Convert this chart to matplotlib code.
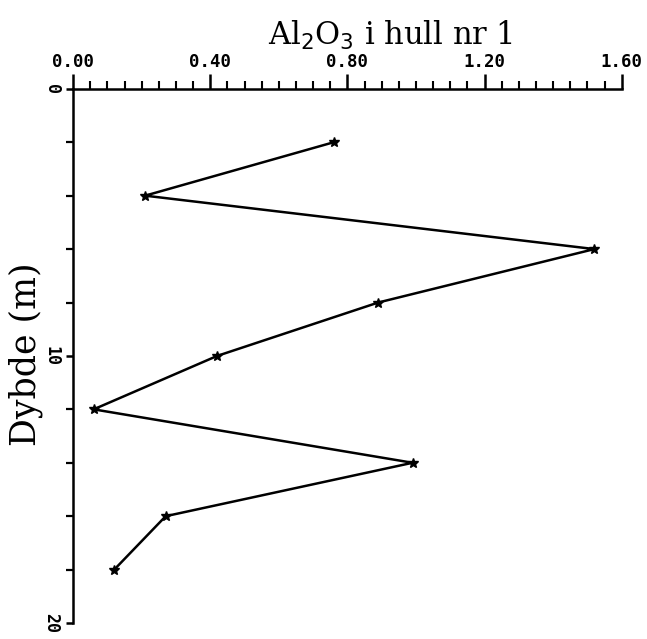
import matplotlib
matplotlib.use("Agg")
import matplotlib.pyplot as plt
from matplotlib.ticker import MultipleLocator, FixedLocator

# Al2O3 content down the borehole
depth = [2, 4, 6, 8, 10, 12, 14, 16, 18]
al2o3 = [0.76, 0.21, 1.52, 0.89, 0.42, 0.06, 0.99, 0.27, 0.12]

x_ticks = [0.0, 0.4, 0.8, 1.2, 1.6]
y_ticks = [0, 10, 20]

fig = plt.figure(figsize=(6.47, 6.39), dpi=100)
ax = fig.add_axes([0.113, 0.025, 0.848, 0.836])

ax.plot(al2o3, depth, color="black", lw=1.8, marker="*", ms=7,
        mfc="black", mec="black")

ax.set_xlim(0, 1.6)
ax.set_ylim(20, 0)

ax.spines["right"].set_visible(False)
ax.spines["bottom"].set_visible(False)
ax.spines["top"].set_linewidth(1.8)
ax.spines["left"].set_linewidth(1.8)

ax.xaxis.set_ticks_position("top")
ax.xaxis.set_major_locator(FixedLocator(x_ticks))
ax.xaxis.set_minor_locator(MultipleLocator(0.05))
ax.set_xticklabels([f"{v:.2f}" for v in x_ticks],
                   family="DejaVu Sans Mono", fontweight="bold", fontsize=12.5)
ax.tick_params(axis="x", which="major", direction="out", length=11, width=1.8, pad=2)
ax.tick_params(axis="x", which="minor", direction="out", length=6, width=1.5)

ax.yaxis.set_major_locator(FixedLocator(y_ticks))
ax.yaxis.set_minor_locator(MultipleLocator(2))
ax.set_yticklabels([str(v) for v in y_ticks], rotation=-90, va="center",
                   family="DejaVu Sans Mono", fontweight="bold", fontsize=12)
ax.tick_params(axis="y", which="major", direction="out", length=5, width=1.8, pad=4)
ax.tick_params(axis="y", which="minor", direction="out", length=5, width=1.6)

fig.text(0.603, 0.945, r"Al$_2$O$_3$ i hull nr 1", ha="center", va="center",
         family="DejaVu Serif", fontsize=22)
fig.text(0.04, 0.59, "Dybde (m)", ha="center", va="top", rotation=90,
         family="DejaVu Serif", fontsize=25)

fig.savefig("out.png", dpi=100, facecolor="white")
